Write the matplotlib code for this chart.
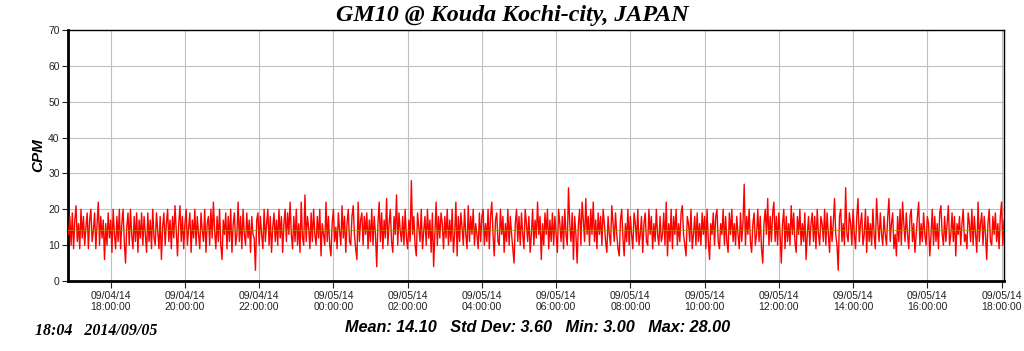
import numpy as np
import pandas as pd
import matplotlib
matplotlib.use("Agg")
import matplotlib.pyplot as plt
import matplotlib.dates as mdates

# CPM readings every 2 minutes, one row per hour starting 2014/09/04 16:52
cpm_rows = [
    [13, 18, 10, 19, 9, 17, 21, 11, 16, 9, 20, 12, 18, 10, 15, 19, 9, 17, 20, 11, 14, 19, 9, 16, 22, 10, 18, 12, 17, 6],
    [16, 10, 19, 12, 17, 8, 20, 13, 9, 18, 11, 20, 9, 16, 20, 11, 5, 15, 19, 10, 20, 13, 9, 18, 11, 19, 8, 17, 12, 19],
    [10, 18, 13, 8, 19, 11, 17, 9, 20, 12, 10, 19, 14, 9, 18, 6, 15, 19, 10, 16, 20, 11, 17, 9, 18, 12, 21, 14, 7, 16],
    [21, 11, 18, 9, 16, 20, 10, 15, 19, 8, 17, 12, 20, 10, 18, 13, 9, 19, 14, 11, 20, 8, 16, 18, 10, 20, 12, 22, 14, 9],
    [18, 11, 20, 10, 6, 17, 13, 19, 9, 18, 11, 20, 8, 16, 19, 10, 13, 22, 11, 18, 9, 20, 13, 10, 19, 12, 17, 8, 18, 13],
    [12, 3, 17, 19, 10, 18, 13, 9, 20, 11, 16, 20, 10, 18, 8, 15, 19, 11, 17, 10, 20, 12, 18, 8, 16, 20, 11, 19, 13, 22],
    [13, 9, 18, 11, 20, 10, 16, 8, 22, 12, 10, 24, 11, 18, 15, 9, 19, 11, 20, 13, 10, 18, 12, 20, 7, 16, 13, 10, 22, 11],
    [18, 10, 7, 16, 20, 11, 15, 9, 19, 14, 10, 21, 12, 18, 8, 16, 20, 11, 10, 18, 21, 13, 9, 6, 22, 11, 17, 19, 10, 18],
    [13, 19, 9, 17, 11, 20, 10, 18, 13, 4, 16, 22, 11, 19, 9, 17, 12, 23, 10, 16, 20, 11, 8, 18, 13, 24, 10, 19, 14, 11],
    [18, 10, 20, 12, 9, 17, 11, 28, 13, 18, 10, 7, 19, 15, 11, 20, 9, 14, 18, 10, 20, 12, 17, 8, 19, 4, 13, 22, 10, 18],
    [12, 19, 16, 9, 18, 12, 20, 10, 17, 11, 20, 8, 13, 22, 7, 18, 11, 19, 15, 10, 20, 13, 9, 21, 11, 18, 13, 20, 10, 16],
    [13, 9, 19, 11, 18, 20, 10, 16, 11, 20, 9, 18, 22, 13, 7, 17, 19, 11, 10, 20, 13, 18, 8, 16, 11, 20, 10, 18, 13, 9],
    [5, 16, 20, 11, 18, 10, 19, 13, 9, 20, 16, 11, 18, 8, 13, 20, 10, 17, 12, 22, 13, 18, 6, 16, 10, 19, 13, 20, 9, 17],
    [11, 19, 10, 18, 13, 8, 20, 16, 11, 18, 9, 20, 13, 10, 26, 16, 11, 19, 6, 18, 13, 5, 16, 20, 10, 22, 17, 11, 23, 13],
    [18, 10, 20, 13, 22, 11, 17, 9, 19, 13, 18, 10, 20, 16, 11, 8, 18, 13, 10, 21, 16, 11, 19, 13, 9, 7, 17, 20, 12, 7],
    [16, 11, 20, 10, 18, 13, 9, 19, 16, 11, 20, 10, 13, 18, 8, 16, 19, 11, 10, 20, 13, 18, 9, 16, 11, 20, 13, 10, 18, 11],
    [13, 19, 10, 22, 7, 16, 11, 20, 9, 18, 13, 20, 10, 16, 11, 19, 21, 13, 10, 7, 18, 16, 11, 20, 9, 13, 18, 10, 19, 11],
    [16, 10, 19, 13, 18, 9, 20, 11, 6, 16, 13, 19, 10, 18, 20, 11, 9, 16, 13, 20, 10, 18, 11, 8, 19, 13, 20, 11, 16, 10],
    [18, 13, 9, 19, 11, 16, 27, 10, 18, 13, 20, 11, 8, 16, 19, 10, 13, 20, 11, 18, 9, 5, 16, 20, 13, 23, 10, 18, 11, 19],
    [22, 11, 18, 10, 19, 13, 5, 16, 20, 9, 18, 11, 16, 10, 21, 13, 19, 11, 8, 18, 13, 20, 10, 16, 11, 19, 6, 13, 18, 10],
    [16, 19, 11, 18, 9, 20, 13, 10, 18, 16, 11, 20, 10, 19, 13, 8, 18, 11, 16, 23, 13, 10, 3, 18, 20, 11, 16, 10, 26, 13],
    [11, 19, 16, 10, 20, 13, 9, 18, 23, 11, 16, 19, 10, 13, 20, 8, 18, 11, 16, 10, 20, 13, 9, 23, 16, 11, 19, 13, 10, 18],
    [13, 10, 18, 23, 11, 16, 19, 9, 13, 7, 18, 11, 20, 10, 22, 16, 11, 19, 13, 9, 18, 20, 11, 16, 8, 13, 18, 22, 10, 16],
    [11, 19, 13, 10, 18, 16, 7, 13, 20, 10, 18, 11, 16, 9, 19, 21, 13, 10, 18, 11, 16, 21, 10, 13, 19, 11, 18, 7, 16, 13],
    [18, 10, 16, 20, 11, 13, 9, 19, 16, 11, 20, 10, 18, 13, 8, 22, 11, 16, 19, 10, 18, 13, 6, 16, 20, 11, 10, 18, 13, 19],
    [11, 16, 9, 18, 22, 10, 17],
]
cpm = [v for row in cpm_rows for v in row]
times = pd.date_range("2014-09-04 16:52", periods=len(cpm), freq="2min")

mean_cpm = 14.10
title = "GM10 @ Kouda Kochi-city, JAPAN"
stats = "Mean: 14.10   Std Dev: 3.60   Min: 3.00   Max: 28.00"
stamp = "18:04   2014/09/05"

fig = plt.figure(figsize=(10.24, 3.51), dpi=100)
ax = fig.add_axes([0.0664, 0.1994, 0.9141, 0.7151])

ax.plot(times, cpm, color="#ff0000", lw=1.0, zorder=3)
ax.axhline(mean_cpm, color="#b08a00", lw=0.8, alpha=0.7, zorder=4)

ax.set_ylim(0, 70)
ax.set_yticks(range(0, 71, 10))
ax.set_xlim(pd.Timestamp("2014-09-04 16:51"), pd.Timestamp("2014-09-05 18:04"))
ax.set_xticks(pd.date_range("2014-09-04 18:00", "2014-09-05 18:00", freq="2h"))
ax.xaxis.set_major_formatter(mdates.DateFormatter("%m/%d/%y\n%H:%M:%S"))

ax.grid(True, color="#c0c0c0", lw=0.8, zorder=0)
ax.set_axisbelow(True)
for s in ["left", "bottom"]:
    ax.spines[s].set_linewidth(2)
for s in ["top", "right"]:
    ax.spines[s].set_linewidth(1)
ax.tick_params(labelsize=7.5, length=4, width=0.8, colors="#222222", pad=2)
ax.tick_params(axis="x", length=5)
for lab in ax.get_xticklabels() + ax.get_yticklabels():
    lab.set_family("Liberation Sans")

ax.set_ylabel("CPM", fontsize=11, fontweight="bold", fontstyle="italic",
              family="Liberation Sans", labelpad=2)

fig.text(0.5, 0.955, title, ha="center", va="center", fontsize=17.3,
         fontweight="bold", fontstyle="italic", family="Liberation Serif")
fig.text(0.525, 0.068, stats, ha="center", va="center", fontsize=11.7,
         fontweight="bold", fontstyle="italic", family="Liberation Sans")
fig.text(0.034, 0.058, stamp, ha="left", va="center", fontsize=11.5,
         fontweight="bold", fontstyle="italic", family="Liberation Serif")

fig.savefig("out.png", dpi=100)
